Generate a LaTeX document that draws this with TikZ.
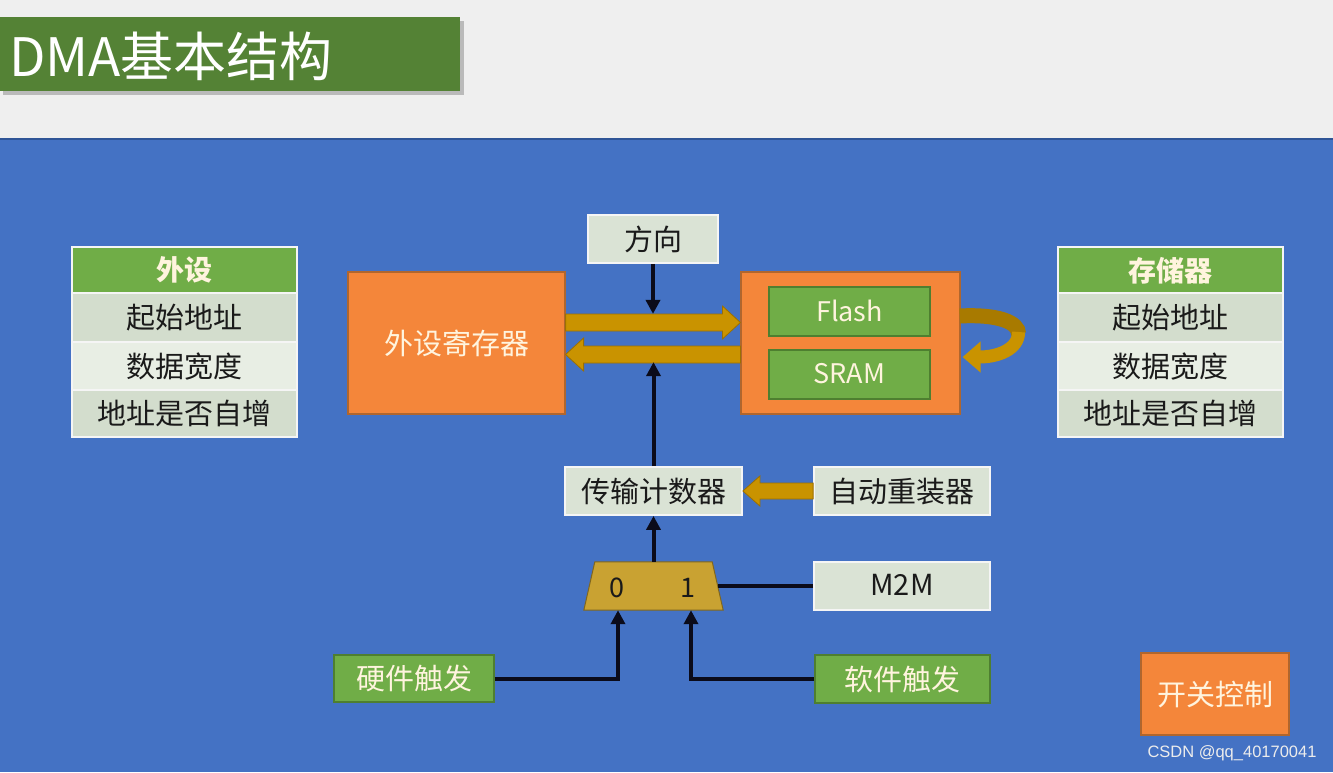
\documentclass[tikz,border=0pt]{standalone}
\usepackage{fontspec}
\setmainfont{Noto Sans CJK SC}
\newfontfamily\wmfont{Liberation Sans}
\usetikzlibrary{calc,arrows.meta,shapes.geometric}
\definecolor{topgray}{HTML}{EFEFEF}
\definecolor{bgblue}{HTML}{4472C4}
\definecolor{blueline}{HTML}{2F5597}
\definecolor{titlegreen}{HTML}{548235}
\definecolor{hdrgreen}{HTML}{70AD47}
\definecolor{rowA}{HTML}{D3DDCD}
\definecolor{rowB}{HTML}{E8EEE4}
\definecolor{lightbox}{HTML}{DAE3D5}
\definecolor{orangef}{HTML}{F4863A}
\definecolor{oranged}{HTML}{B0662E}
\definecolor{greend}{HTML}{4E7F30}
\definecolor{goldf}{HTML}{C99300}
\definecolor{goldd}{HTML}{9C7000}
\definecolor{goldback}{HTML}{A87A00}
\definecolor{muxf}{HTML}{C9A232}
\definecolor{muxd}{HTML}{7F6620}
\definecolor{sigcol}{HTML}{0B0B1A}
\definecolor{txtdark}{HTML}{1A1A1A}
\definecolor{txtcream}{HTML}{FFF4DE}
\newcommand\blockarrow[5]{%
  \filldraw[barrow] let \p1=(#1), \p2=(#2) in
  (\x1,{\y2+#3}) -- ({\x2-(#5)},{\y2+#3}) -- ({\x2-(#5)},{\y2+#4}) -- (\x2,\y2)
  -- ({\x2-(#5)},{\y2-#4}) -- ({\x2-(#5)},{\y2-#3}) -- (\x1,{\y2-#3}) -- cycle;}
\begin{document}
\begin{tikzpicture}[x=1pt,y=-1pt,
  cell/.style={draw=white!92!gray, line width=1.8pt, minimum width=225pt, inner sep=0pt,
    text=txtdark, font=\fontsize{29}{29}\selectfont, text depth=2pt},
  hdr/.style={cell, fill=hdrgreen, text=txtcream, minimum height=46pt, font=\fontsize{28}{28}\selectfont\bfseries},
  lbox/.style={draw=white!92!gray, line width=1.8pt, fill=lightbox, inner sep=0pt,
    text=txtdark, font=\fontsize{29}{29}\selectfont, minimum height=48pt, text depth=2pt},
  obox/.style={draw=oranged, line width=1.2pt, fill=orangef, inner sep=0pt,
    text=txtcream, font=\fontsize{29}{29}\selectfont, text depth=2pt},
  gbox/.style={draw=greend, line width=1.2pt, fill=hdrgreen, inner sep=0pt,
    text=txtcream, font=\fontsize{27}{27}\selectfont, text depth=2pt},
  barrow/.style={fill=goldf, draw=goldd, line width=0.8pt},
  sig/.style={draw=sigcol, line width=4pt, -{Triangle[length=14pt,width=14pt]}},
  wire/.style={draw=sigcol, line width=4pt},
  muxlbl/.style={inner sep=0pt, text=txtdark, font=\fontsize{27}{27}\selectfont}
]
\useasboundingbox (0,0) rectangle (1333,772);
% background
\fill[topgray] (0,0) rectangle (1333,139);
\fill[bgblue] (0,139) rectangle (1333,772);
\draw[blueline, line width=1.5pt] (0,139) -- (1333,139);
% title
\fill[black, opacity=0.22] (3,21) rectangle (464,95);
\fill[titlegreen] (0,17) rectangle (460,91);
\node[anchor=west, inner sep=0pt, text=white, font=\fontsize{53}{53}\selectfont] (title) at (9,56) {DMA基本结构};
% left table
\node[hdr]  (lh)  at (184.5,270)   {外设};
\node[cell, fill=rowA, minimum height=49pt] (l1) at (184.5,317.5) {起始地址};
\node[cell, fill=rowB, minimum height=48pt] (l2) at (184.5,366) {数据宽度};
\node[cell, fill=rowA, minimum height=47pt] (l3) at (184.5,413.5) {地址是否自增};
% right table
\node[hdr]  (rh)  at (1170.5,270)   {存储器};
\node[cell, fill=rowA, minimum height=49pt] (r1) at (1170.5,317.5) {起始地址};
\node[cell, fill=rowB, minimum height=48pt] (r2) at (1170.5,366) {数据宽度};
\node[cell, fill=rowA, minimum height=47pt] (r3) at (1170.5,413.5) {地址是否自增};
% main boxes
\node[lbox, minimum width=130pt] (dir) at (653,239) {方向};
\node[obox, minimum width=217pt, minimum height=142pt] (ext) at (456.5,343) {外设寄存器};
\node[obox, minimum width=219pt, minimum height=142pt] (mem) at (850.5,343) {};
\node[gbox, minimum width=161pt, minimum height=49pt] (flash) at (849.5,311.5) {Flash};
\node[gbox, minimum width=161pt, minimum height=49pt] (sram) at (849.5,374.5) {SRAM};
\node[lbox, minimum width=177pt] (cnt) at (653.5,491) {传输计数器};
\node[lbox, minimum width=176pt] (reload) at (902,491) {自动重装器};
% multiplexer (trapezoid)
\node[rectangle, minimum width=128pt, minimum height=48pt, inner sep=0pt] (mux) at (653.5,586) {};
\filldraw[fill=muxf, draw=muxd, line width=1pt]
  ($(mux.north west)+(5.5,0)$) -- ($(mux.north east)+(-5.5,0)$) -- ($(mux.south east)+(5.5,0)$)
  -- ($(mux.south west)+(-5.5,0)$) -- cycle;
\node[muxlbl] (m0) at (617,588) {0};
\node[muxlbl] (m1) at (688,588) {1};
\node[lbox, minimum width=176pt] (m2m) at (902,586) {M2M};
\node[gbox, minimum width=160pt, minimum height=47pt, font=\fontsize{29}{29}\selectfont] (hw) at (414,678.5) {硬件触发};
\node[gbox, minimum width=175pt, minimum height=48pt, font=\fontsize{29}{29}\selectfont] (sw) at (902.5,679) {软件触发};
\node[obox, minimum width=148pt, minimum height=82pt] (ctl) at (1215,694) {开关控制};
% block arrows
\blockarrow{$(ext.east)+(0,-20.5)$}{$(mem.west)+(0,-20.5)$}{8.5pt}{16.5pt}{18pt}
\blockarrow{$(mem.west)+(0,11.5)$}{$(ext.east)+(0,11.5)$}{8.5pt}{16.5pt}{-18pt}
\blockarrow{reload.west}{cnt.east}{8pt}{15pt}{-17pt}
% loop arrow on memory
\coordinate (lpA) at ($(mem.east)+(-1,-27)$);
\coordinate (lpB) at ($(mem.east)+(58,-9)$);
\coordinate (lpC) at ($(mem.east)+(2,14)$);
\draw[draw=goldback, line width=15pt] (lpA) .. controls +(38,-2) and +(0,-12) .. (lpB);
\draw[draw=goldf, line width=13pt, -{Triangle[length=18pt,width=30pt]}] ($(lpB)+(0,-2)$) .. controls +(0,18) and +(34,0) .. (lpC);
% signal lines
\coordinate (busTop) at ($(dir.south)+(0,50)$);
\coordinate (busBot) at ($(cnt.north)+(0,-104)$);
\coordinate (in0) at ($(mux.south)+(-35.5,0)$);
\coordinate (in1) at ($(mux.south)+(37.5,0)$);
\draw[sig] (dir.south) -- (busTop);
\draw[sig] (cnt.north) -- (busBot);
\draw[sig] (mux.north) -- (cnt.south);
\draw[wire] (m2m.west) -- (mux.east);
\draw[sig] (hw.east) -| (in0);
\draw[sig] (sw.west) -| (in1);
% watermark
\node[text=white!85!gray, font=\wmfont\fontsize{16.5}{16.5}\selectfont, inner sep=0pt] (wm) at (1232,753) {CSDN @qq\_40170041};
\end{tikzpicture}
\end{document}
